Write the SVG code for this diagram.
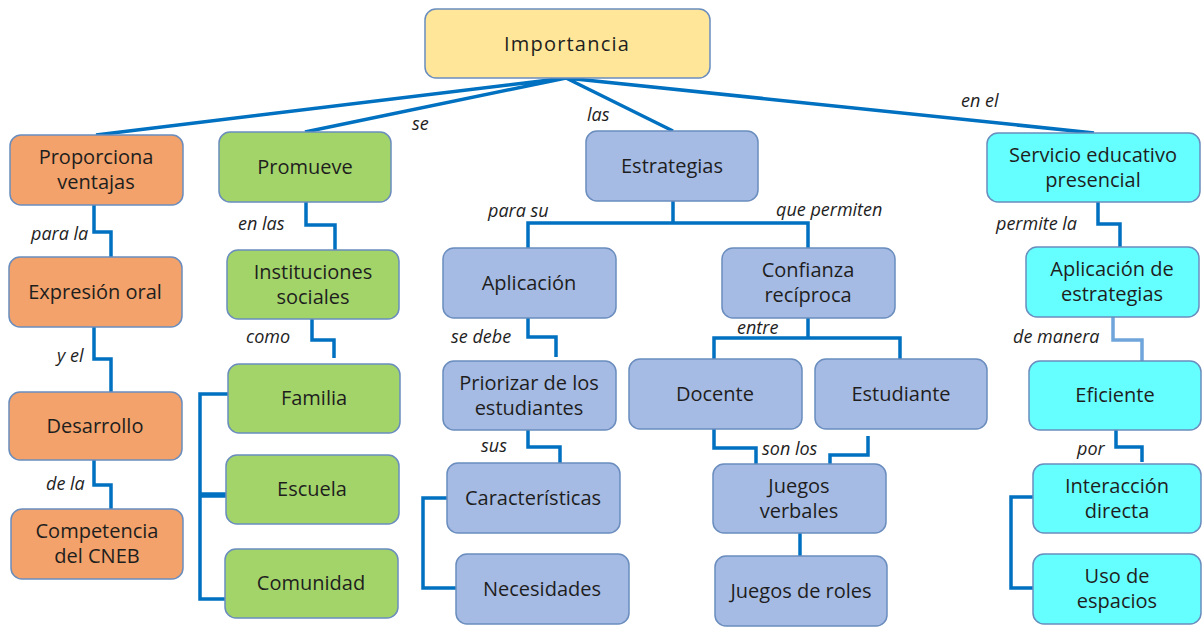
<svg xmlns="http://www.w3.org/2000/svg" width="1202" height="628" viewBox="0 0 1202 628">
<style>
.n rect{stroke:#6A8DBE;stroke-width:1.5}
.o rect{fill:#F2A26A}
.g rect{fill:#A3D46A}
.b rect{fill:#A6BBE3}
.c rect{fill:#66FFFF}
.y rect{fill:#FFE699}
.n text{font-family:"Open Sans","Noto Sans",sans-serif;font-size:20px;fill:#1e1e1e;text-anchor:middle}
.l{font-family:"Open Sans","Noto Sans",sans-serif;font-size:18px;font-style:italic;fill:#1e1e1e}
#connectors path{fill:none;stroke:#0070C0;stroke-width:3.5}
</style>
<rect width="1202" height="628" fill="#ffffff"/>
<g id="connectors">
<path d="M566 78L96 135M566 78L305 132M566 78L673 131M566 78L1094 133"/>
<path d="M94 205V232H111V257"/>
<path d="M94 327V359H111V392"/>
<path d="M94 460V485H111V509"/>
<path d="M306 202V225H335V250"/>
<path d="M312 319V340H334V358"/>
<path d="M228 394H200V599H225"/>
<path d="M200 495H226" style="stroke-width:5.5"/>
<path d="M673 201V223M528 248V223H808V248"/>
<path d="M528 318V337H556V357"/>
<path d="M528 430V447H560V463"/>
<path d="M447 498H423V588H456"/>
<path d="M808 318V338M714 359V338H900V359"/>
<path d="M714 429V448H756V467"/>
<path d="M868 436V455H830V472"/>
<path d="M800 533V556"/>
<path d="M1098 202V224H1120V247"/>
<path d="M1113 317V340H1142V363" style="stroke:#6FA5DA"/>
<path d="M1116 430V447H1142V462"/>
<path d="M1033 497H1011V588H1033"/>
</g>
<g id="labels">
<text class="l" x="412" y="130">se</text>
<text class="l" x="587" y="121">las</text>
<text class="l" x="961" y="107">en el</text>
<text class="l" x="488" y="217">para su</text>
<text class="l" x="776" y="216">que permiten</text>
<text class="l" x="31" y="240">para la</text>
<text class="l" x="57" y="362">y el</text>
<text class="l" x="46" y="490">de la</text>
<text class="l" x="238" y="230">en las</text>
<text class="l" x="246" y="343">como</text>
<text class="l" x="451" y="343">se debe</text>
<text class="l" x="481" y="452">sus</text>
<text class="l" x="737" y="334">entre</text>
<text class="l" x="762" y="455">son los</text>
<text class="l" x="996" y="230">permite la</text>
<text class="l" x="1013" y="343">de manera</text>
<text class="l" x="1077" y="455">por</text>
</g>
<g id="importancia" class="n y"><rect x="425" y="9" width="285" height="69" rx="11"/><text x="567" y="51" style="letter-spacing:1.2px">Importancia</text></g>
<g id="proporciona" class="n o"><rect x="10" y="135" width="173" height="70" rx="11"/><text x="96" y="164">Proporciona</text><text x="96" y="189">ventajas</text></g>
<g id="promueve" class="n g"><rect x="219" y="132" width="172" height="70" rx="11"/><text x="305" y="174">Promueve</text></g>
<g id="estrategias" class="n b"><rect x="586" y="131" width="172" height="70" rx="11"/><text x="672" y="173">Estrategias</text></g>
<g id="servicio" class="n c"><rect x="987" y="133" width="213" height="69" rx="11"/><text x="1093" y="162">Servicio educativo</text><text x="1093" y="187">presencial</text></g>
<g id="expresion" class="n o"><rect x="9" y="257" width="173" height="70" rx="11"/><text x="95" y="299">Expresión oral</text></g>
<g id="desarrollo" class="n o"><rect x="9" y="392" width="173" height="68" rx="11"/><text x="95" y="433">Desarrollo</text></g>
<g id="competencia" class="n o"><rect x="11" y="509" width="172" height="70" rx="11"/><text x="97" y="538">Competencia</text><text x="97" y="563">del CNEB</text></g>
<g id="instituciones" class="n g"><rect x="227" y="250" width="172" height="69" rx="11"/><text x="313" y="279">Instituciones</text><text x="313" y="304">sociales</text></g>
<g id="familia" class="n g"><rect x="228" y="364" width="172" height="69" rx="11"/><text x="314" y="405">Familia</text></g>
<g id="escuela" class="n g"><rect x="226" y="455" width="173" height="69" rx="11"/><text x="312" y="496">Escuela</text></g>
<g id="comunidad" class="n g"><rect x="225" y="549" width="173" height="69" rx="11"/><text x="311" y="590">Comunidad</text></g>
<g id="aplicacion" class="n b"><rect x="443" y="248" width="173" height="70" rx="11"/><text x="529" y="290">Aplicación</text></g>
<g id="priorizar" class="n b"><rect x="443" y="361" width="173" height="69" rx="11"/><text x="529" y="390">Priorizar de los</text><text x="529" y="415">estudiantes</text></g>
<g id="caracteristicas" class="n b"><rect x="447" y="463" width="173" height="70" rx="11"/><text x="533" y="505">Características</text></g>
<g id="necesidades" class="n b"><rect x="456" y="554" width="173" height="70" rx="11"/><text x="542" y="596">Necesidades</text></g>
<g id="confianza" class="n b"><rect x="722" y="248" width="173" height="70" rx="11"/><text x="808" y="277">Confianza</text><text x="808" y="302">recíproca</text></g>
<g id="docente" class="n b"><rect x="629" y="359" width="173" height="70" rx="11"/><text x="715" y="401">Docente</text></g>
<g id="estudiante" class="n b"><rect x="815" y="359" width="172" height="70" rx="11"/><text x="901" y="401">Estudiante</text></g>
<g id="juegos-verbales" class="n b"><rect x="713" y="464" width="173" height="69" rx="11"/><text x="799" y="493">Juegos</text><text x="799" y="518">verbales</text></g>
<g id="juegos-roles" class="n b"><rect x="715" y="556" width="172" height="70" rx="11"/><text x="801" y="598">Juegos de roles</text></g>
<g id="aplicacion-estrategias" class="n c"><rect x="1026" y="247" width="173" height="70" rx="11"/><text x="1112" y="276">Aplicación de</text><text x="1112" y="301">estrategias</text></g>
<g id="eficiente" class="n c"><rect x="1029" y="361" width="172" height="69" rx="11"/><text x="1115" y="402">Eficiente</text></g>
<g id="interaccion" class="n c"><rect x="1033" y="464" width="168" height="69" rx="11"/><text x="1117" y="493">Interacción</text><text x="1117" y="518">directa</text></g>
<g id="uso-espacios" class="n c"><rect x="1033" y="554" width="168" height="70" rx="11"/><text x="1117" y="583">Uso de</text><text x="1117" y="608">espacios</text></g>
</svg>
